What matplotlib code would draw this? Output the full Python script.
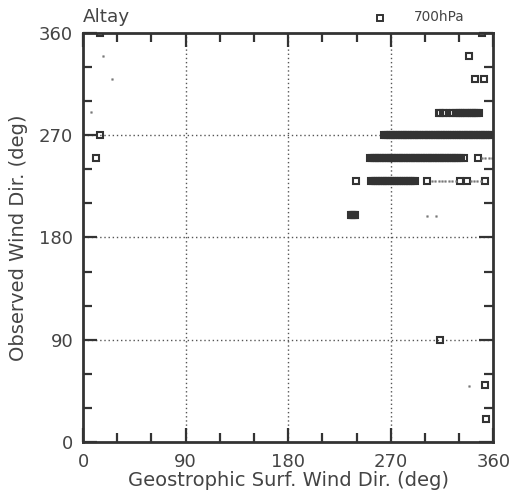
import matplotlib
matplotlib.use("Agg")
import matplotlib.pyplot as plt
from matplotlib.lines import Line2D

plt.rcParams['font.family'] = ['DejaVu Sans']

station = "Altay"
level = "700hPa"

# geostrophic dir (x) per observed dir (y) row
geo_340 = [339]
geo_320 = [344, 352]
geo_290 = [312, 313.5, 315.5, 318.5, 322, 325, 327, 329, 330.5, 332, 333.5, 335.5, 337, 338.5, 340,
           341.5, 343, 344.5, 346, 347.5]
geo_270 = [14.7, 264.5, 266, 267.5, 269, 270.5, 272, 273.5, 275, 276.5, 278, 279.5, 281, 282.5, 284,
           285.5, 287, 288.5, 290, 291.5, 293, 294.5, 296, 298, 299.5, 301, 302.5, 304, 305.5, 307,
           308.5, 310, 311.5, 313, 314.5, 316, 317.5, 319, 320.5, 322, 323.5, 325.5, 327, 328.5, 330,
           331.5, 333, 334.5, 336, 337.5, 339, 340.5, 342, 343.5, 345, 346.5, 348, 349.5, 351, 352.5,
           354, 355.5, 357, 358.5]
geo_250 = [11, 252, 253.5, 255, 256.5, 258, 259.5, 261, 262.5, 264, 265.5, 267, 268.5, 270, 271.5,
           273, 274.5, 276, 277.5, 279, 280.5, 282, 283.5, 285, 286.5, 288, 289.5, 291, 292.5, 294,
           295.5, 297, 298.5, 300, 301.5, 303, 304.5, 306, 307.5, 309, 310.5, 312, 313.5, 315, 316.5,
           318, 319.5, 321, 322.5, 324, 325.5, 327, 328.5, 330, 331.5, 334, 346.5]
geo_230 = [239.5, 253, 254.5, 256, 257.5, 259, 260.5, 262, 263.5, 265, 266.5, 268, 269.5, 271, 272.5,
           274, 275.5, 277, 279, 280.5, 282, 283.5, 285, 286.5, 288, 289.5, 291, 302, 330.5, 336.5, 353]
geo_200 = [235, 236, 237, 238, 239]
geo_360 = [14.7, 350.5]
geo_90 = [313]
geo_50 = [352.7]
geo_20 = [353.6]

# faint small dots
dot_x = [17.5, 25.5, 7, 302, 310, 338.5, 306, 309, 312, 315, 318, 321, 324, 327, 340, 343, 346,
         349, 350, 353, 356, 359]
dot_y = [340, 320, 291, 199, 199, 49.5, 230, 230, 230, 230, 230, 230, 230, 230, 230, 230, 230,
         230, 250, 250, 250, 250]

rows = [(geo_360, 360), (geo_340, 340), (geo_320, 320), (geo_290, 290), (geo_270, 270),
        (geo_250, 250), (geo_230, 230), (geo_200, 200), (geo_90, 90), (geo_50, 50), (geo_20, 20)]

dark = "#333333"
txt = "#444444"

fig = plt.figure(figsize=(5.13, 5.01), dpi=100)
ax = fig.add_axes([0.1618, 0.1184, 0.7998, 0.8151])

for gx, oy in rows:
    ax.plot(gx, [oy] * len(gx), linestyle="none", marker="s", ms=4.6, mfc="none",
            mec=dark, mew=1.5)
ax.plot(dot_x, dot_y, linestyle="none", marker="s", ms=1.2, mfc="#777777", mec="#777777", mew=0.3)

ax.set_xlim(0, 360)
ax.set_ylim(0, 360)
ax.set_xticks([0, 90, 180, 270, 360])
ax.set_yticks([0, 90, 180, 270, 360])
ax.set_xticks(range(0, 361, 30), minor=True)
ax.set_yticks(range(0, 361, 30), minor=True)
ax.tick_params(which="both", direction="in", top=True, right=True, color=dark,
               labelsize=13, labelcolor=txt, width=1.6)
ax.tick_params(which="major", length=10)
ax.tick_params(which="minor", length=6.5)
ax.tick_params(axis="x", pad=8)
ax.tick_params(axis="y", pad=7)
for s in ax.spines.values():
    s.set_linewidth(2)
    s.set_color(dark)

for v in [90, 180, 270]:
    ax.axvline(v, color="#555555", lw=1, linestyle=(0, (1, 2)), zorder=0)
    ax.axhline(v, color="#555555", lw=1, linestyle=(0, (1, 2)), zorder=0)

ax.set_xlabel("Geostrophic Surf. Wind Dir. (deg)", fontsize=14, color=txt, labelpad=0)
ax.set_ylabel("Observed Wind Dir. (deg)", fontsize=14, color=txt, labelpad=8)

fig.text(83 / 513, 1 - 17 / 501, station, fontsize=13.2, color=txt, ha="left", va="center")
fig.add_artist(Line2D([380 / 513], [1 - 17.5 / 501], marker="s", ms=4.2, mfc="none", mec=dark,
                      mew=1.4, linestyle="none", transform=fig.transFigure))
fig.text(414 / 513, 1 - 17 / 501, level, fontsize=9.8, color=txt, ha="left", va="center")

fig.savefig("out.png", dpi=100)
